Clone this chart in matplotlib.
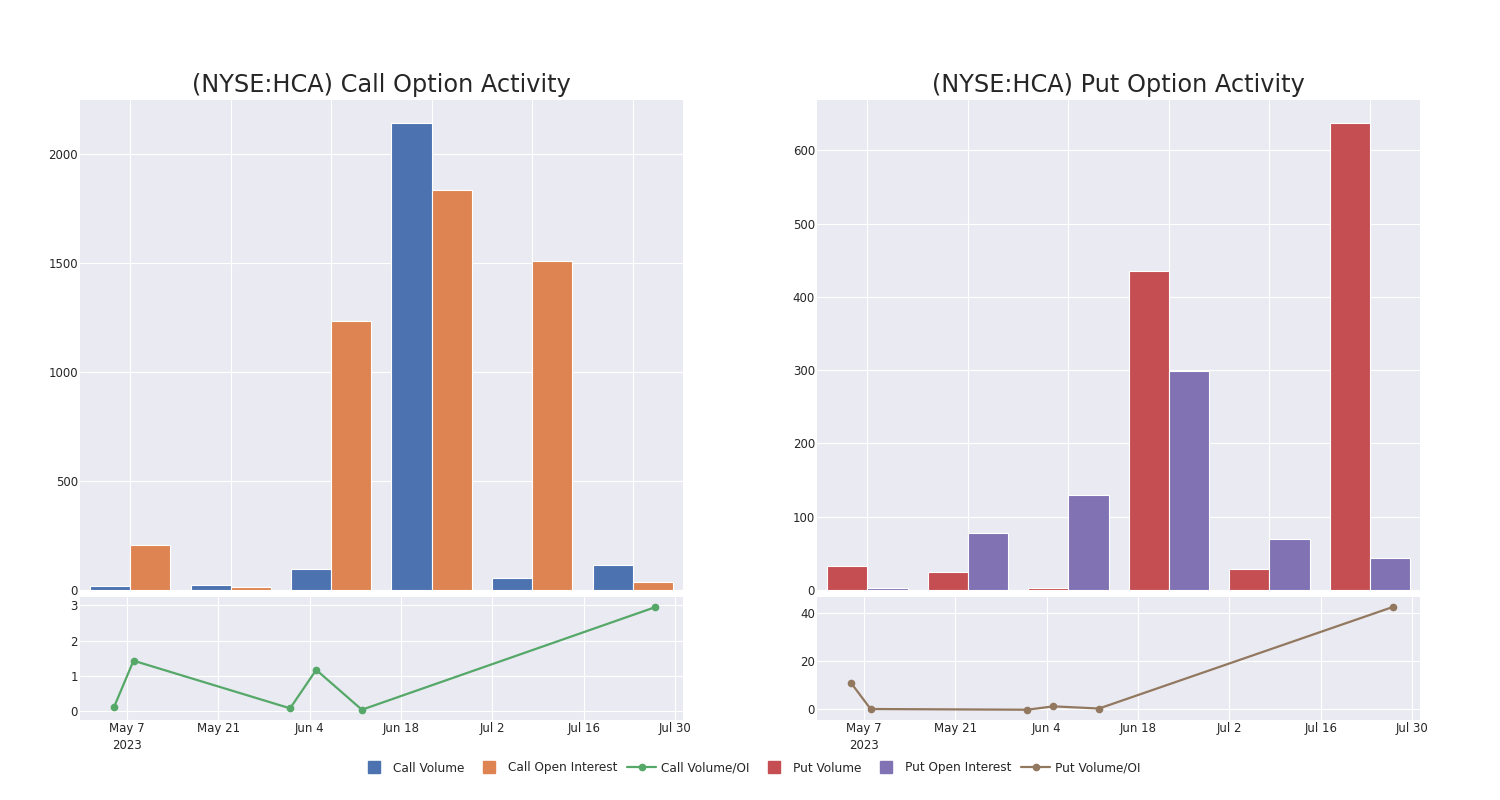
import matplotlib
matplotlib.use("Agg")
import matplotlib.pyplot as plt
import matplotlib.dates as mdates
from matplotlib.lines import Line2D
import numpy as np

plt.style.use("seaborn-v0_8-darkgrid")
plt.rcParams["font.family"] = ["DejaVu Sans"]

# bar groups (one per expiry bucket)
call_volume = [18, 25, 98, 2142, 55, 117]
call_oi = [206, 16, 1236, 1836, 1510, 38]
put_volume = [33, 25, 3, 436, 28, 637]
put_oi = [3, 78, 129, 299, 69, 44]

# volume / open interest ratio series
ratio_dates = ["2023-05-05", "2023-05-08", "2023-06-01", "2023-06-05", "2023-06-12", "2023-07-27"]
call_ratio = [0.11, 1.43, 0.08, 1.17, 0.04, 2.95]
put_ratio = [10.9, 0.1, -0.2, 1.2, 0.3, 42.3]

tick_dates = ["2023-05-07", "2023-05-21", "2023-06-04", "2023-06-18",
              "2023-07-02", "2023-07-16", "2023-07-30"]
date_range = ["2023-04-29 19:00", "2023-07-31 05:00"]

blue, orange, green = "#4C72B0", "#DD8452", "#55A868"
red, purple, brown = "#C44E52", "#8172B3", "#937860"
text_col = "#262626"

fig = plt.figure(figsize=(15, 8), dpi=100, facecolor="white")


def date_label(d, pos=None):
    d = mdates.num2date(d)
    s = d.strftime("%b ") + str(d.day)
    if pos == 0:
        s += "\n2023"
    return s


def draw_panel(x0, title, vol, oi, c1, c2, dates, ratio, c3, yticks_top, yticks_bot):
    ax = fig.add_axes([x0, 0.2625, 0.402, 0.6125])
    x = np.arange(len(vol))
    ax.bar(x - 0.2, vol, 0.4, color=c1, edgecolor="white", linewidth=0.8)
    ax.bar(x + 0.2, oi, 0.4, color=c2, edgecolor="white", linewidth=0.8)
    ax.set_xlim(-0.5, len(vol) - 0.5)
    ax.set_ylim(0, max(max(vol), max(oi)) * 1.05)
    ax.set_xticks(x)
    ax.set_xticklabels([])
    ax.set_yticks(yticks_top)
    ax.tick_params(labelsize=8.5, colors=text_col, length=0, pad=1.5)
    ax.set_title(title, fontsize=17.3, color=text_col, pad=6)

    ax2 = fig.add_axes([x0, 0.1, 0.402, 0.154])
    d = mdates.datestr2num(dates)
    ax2.plot(d, ratio, color=c3, marker="o", markersize=4.5, linewidth=1.6)
    span = max(ratio) - min(ratio)
    ax2.set_ylim(min(ratio) - 0.1 * span, max(ratio) + 0.1 * span)
    ax2.set_xlim(mdates.datestr2num(date_range))
    ax2.set_yticks(yticks_bot)
    ax2.set_xticks(mdates.datestr2num(tick_dates))
    ax2.xaxis.set_major_formatter(plt.FuncFormatter(date_label))
    ax2.tick_params(labelsize=8.5, colors=text_col, length=0, pad=1.5)
    for t in ax2.get_xticklabels():
        t.set_linespacing(1.35)
    return ax, ax2


draw_panel(0.0533, "(NYSE:HCA) Call Option Activity", call_volume, call_oi, blue, orange,
           ratio_dates, call_ratio, green, [0, 500, 1000, 1500, 2000], [0, 1, 2, 3])
draw_panel(0.5447, "(NYSE:HCA) Put Option Activity", put_volume, put_oi, red, purple,
           ratio_dates, put_ratio, brown, [0, 100, 200, 300, 400, 500, 600], [0, 20, 40])

handles = [
    Line2D([], [], color=blue, marker="s", linestyle="none", markersize=8.5),
    Line2D([], [], color=orange, marker="s", linestyle="none", markersize=8.5),
    Line2D([], [], color=green, marker="o", markersize=4.5, linewidth=1.6),
    Line2D([], [], color=red, marker="s", linestyle="none", markersize=8.5),
    Line2D([], [], color=purple, marker="s", linestyle="none", markersize=8.5),
    Line2D([], [], color=brown, marker="o", markersize=4.5, linewidth=1.6),
]
labels = ["Call Volume", "Call Open Interest", "Call Volume/OI",
          "Put Volume", "Put Open Interest", "Put Volume/OI"]
leg = fig.legend(handles, labels, loc="center", bbox_to_anchor=(0.5, 0.04), ncol=6,
                 frameon=False, fontsize=8.7, handlelength=2.4, handletextpad=0.4,
                 columnspacing=0.8)
for t in leg.get_texts():
    t.set_color(text_col)

fig.savefig("out.png", dpi=100, facecolor="white")
